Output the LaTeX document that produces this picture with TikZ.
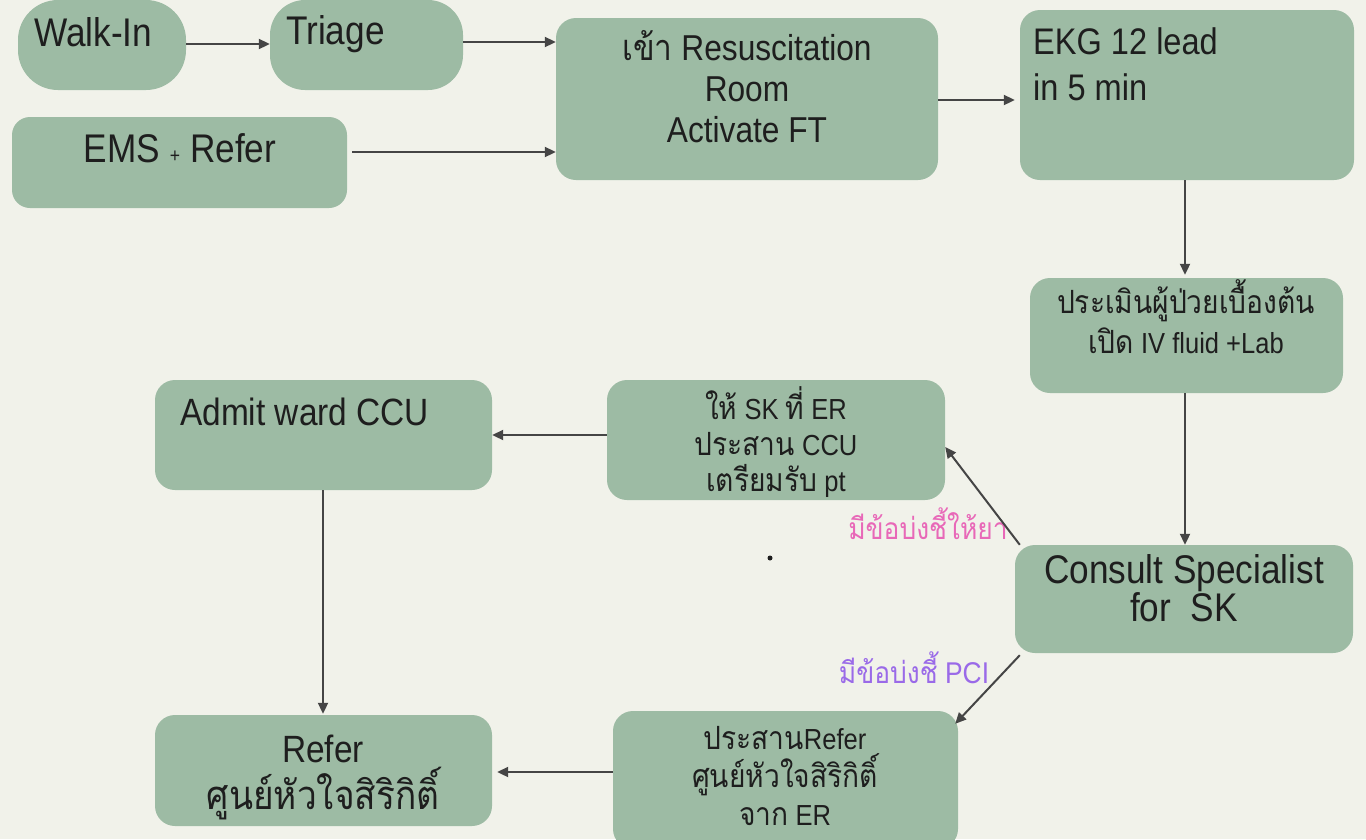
\documentclass[tikz,border=0pt]{standalone}
\usepackage{fontspec}
\setmainfont{Liberation Sans}[FakeStretch=0.88]
\newfontfamily\thaifont[Script=Thai,FakeStretch=0.88]{Loma}
\newcommand\thtxt[1]{{\thaifont #1}}
\newcommand\fs[2]{\fontsize{#1}{#2}\selectfont}
\usetikzlibrary{arrows.meta,calc}

\definecolor{bgcol}{HTML}{F1F2EA}
\definecolor{boxgreen}{HTML}{9DBBA4}
\definecolor{linecol}{HTML}{454545}
\definecolor{inkcol}{HTML}{1E1E1E}
\definecolor{pinklbl}{HTML}{E868B8}
\definecolor{purplelbl}{HTML}{9A6AE8}

\tikzset{
  stepbox/.style={fill=boxgreen, draw=none, rounded corners=20pt, inner sep=0pt},
  boxtext/.style={inner sep=0pt, text=inkcol, align=center},
  flow/.style={draw=linecol, line width=2pt, -{Triangle[length=11pt,width=10pt]}},
}

\begin{document}
\begin{tikzpicture}[x=1pt, y=-1pt]
  % canvas
  \fill[bgcol] (0,0) rectangle (1366,839);
  \useasboundingbox (0,0) rectangle (1366,839);
  \clip (0,0) rectangle (1366,839);

  % boxes
  \node[stepbox, rounded corners=40pt, minimum width=168pt, minimum height=90pt] (walk)    at (102,45) {};
  \node[stepbox, rounded corners=35pt, minimum width=193pt, minimum height=90pt] (triage)  at (366.5,45) {};
  \node[stepbox, rounded corners=18pt, minimum width=335pt, minimum height=91pt] (ems)     at (179.5,162.5) {};
  \node[stepbox, minimum width=382pt, minimum height=162pt] (resus)   at (747,99) {};
  \node[stepbox, minimum width=334pt, minimum height=170pt] (ekg)     at (1187,95) {};
  \node[stepbox, minimum width=313pt, minimum height=115pt] (assess)  at (1186.5,335.5) {};
  \node[stepbox, minimum width=338pt, minimum height=108pt] (consult) at (1184,599) {};
  \node[stepbox, minimum width=338pt, minimum height=120pt] (give)    at (776,440) {};
  \node[stepbox, minimum width=337pt, minimum height=110pt] (admit)   at (323.5,435) {};
  \node[stepbox, minimum width=337pt, minimum height=111pt] (refer)   at (323.5,770.5) {};
  \node[stepbox, minimum width=345pt, minimum height=138pt] (coord)   at (785.5,780) {};

  % box texts
  \node[boxtext, anchor=base west, font=\fs{40}{46}] (walk-t)   at (34,46)  {Walk-In};
  \node[boxtext, anchor=base west, font=\fs{40}{46}] (triage-t) at (286,44) {Triage};
  \node[boxtext, anchor=base, font=\fs{40}{46}]      (ems-t)    at (180,162) {EMS {\fs{20}{20}+} Refer};
  \node[boxtext, font=\fs{36}{41}] (resus-t) at (747,87) {\thtxt{เข้า} Resuscitation\\Room\\Activate FT};
  \node[boxtext, anchor=north west, align=left, font=\fs{37}{46}] (ekg-t) at (1033,27) {EKG 12 lead\\in 5 min};
  \node[boxtext, font=\fs{29}{40}] (assess-t)  at (1186,317) {\thtxt{\fs{32}{40}ประเมินผู้ป่วยเบื้องต้น}\\\thtxt{\fs{32}{40}เปิด} IV fluid +Lab};
  \node[boxtext, font=\fs{40}{37}] (consult-t) at (1184,588) {Consult Specialist\\for\ \ SK};
  \node[boxtext, font=\fs{29}{36}] (give-t)    at (776,442)  {\thtxt{\fs{32}{36}ให้} SK \thtxt{\fs{32}{36}ที่} ER\\\thtxt{\fs{32}{36}ประสาน} CCU\\\thtxt{\fs{32}{36}เตรียมรับ} pt};
  \node[boxtext, anchor=base west, font=\fs{38}{44}] (admit-t) at (180,425) {Admit ward CCU};
  \node[boxtext, font=\fs{38}{47}] (refer-t)   at (323,777)  {Refer\\\thtxt{\fs{40}{47}ศูนย์หัวใจสิริกิติ์}};
  \node[boxtext, font=\fs{29}{38}] (coord-t)   at (785,776)  {\thtxt{\fs{32}{38}ประสาน}Refer\\\thtxt{\fs{32}{38}ศูนย์หัวใจสิริกิติ์}\\\thtxt{\fs{32}{38}จาก} ER};

  % branch labels
  \node[inner sep=0pt, text=pinklbl, font=\fs{30}{34}]   (lbl-drug) at (928,524) {\thtxt{มีข้อบ่งชี้ให้ยา}};
  \node[inner sep=0pt, text=purplelbl, font=\fs{30}{34}] (lbl-pci)  at (914,668) {\thtxt{มีข้อบ่งชี้} PCI};

  % connectors
  \draw[flow] (walk.east |- 0,44) -- (triage.west |- 0,44);
  \draw[flow] (triage.east |- 0,42) -- (resus.west |- 0,42);
  \draw[flow] ($(ems.east |- 0,152)+(5,0)$) -- (resus.west |- 0,152);
  \draw[flow] (resus.east |- 0,100) -- ($(ekg.west |- 0,100)+(-5,0)$);
  \draw[flow] (ekg.south -| 1185,0) -- ($(assess.north -| 1185,0)+(0,-3)$);
  \draw[flow] (assess.south -| 1185,0) -- (consult.north -| 1185,0);
  \draw[flow] ($(consult.north west)+(5,0)$) -- ($(give.east)+(0,7)$);
  \draw[flow] (give.west |- 0,435) -- (admit.east |- 0,435);
  \draw[flow] (admit.south -| 323,0) -- ($(refer.north -| 323,0)+(0,-1)$);
  \draw[flow] ($(consult.south west)+(5,2)$) -- ($(coord.north east)+(-3,13)$);
  \draw[flow] (coord.west |- 0,772) -- ($(refer.east |- 0,772)+(5,0)$);

  % stray mark
  \fill[inkcol] (770,558) circle (2.5pt);
\end{tikzpicture}
\end{document}
